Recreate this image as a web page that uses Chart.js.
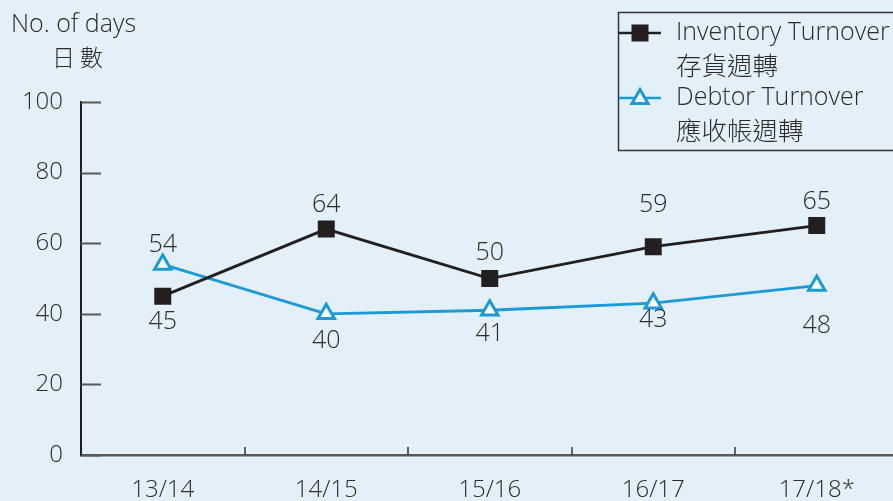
<!DOCTYPE html>
<html>
<head>
<meta charset="utf-8">
<script src="https://cdn.jsdelivr.net/npm/chart.js@4.4.0/dist/chart.umd.min.js"></script>
<style>
  html, body { margin: 0; padding: 0; background: #e3f0f9; overflow: hidden; }
  #wrap { position: relative; width: 893px; height: 501px; overflow: hidden; }
  canvas { position: absolute; left: 0; top: 0; }
</style>
</head>
<body>
<div id="wrap"><canvas id="chart" width="911" height="501"></canvas></div>
<script>
// data
const years = ['13/14', '14/15', '15/16', '16/17', '17/18*'];
const inventoryDays = [45, 64, 50, 59, 65];
const debtorDays = [54, 40, 41, 43, 48];
const yTicks = [0, 20, 40, 60, 80, 100];

// where each value label sits relative to its point (px, negative = above)
const inventoryLabelShift = [26, -24, -26, -42, -24];
const debtorLabelShift = [-20, 27, 24, 17, 40];

const FONT = '"Open Sans", "Noto Sans CJK TC", sans-serif';
const CJK = '"Noto Sans CJK TC", sans-serif';
const TEXT = '#2b2b2b';
const BLACK = '#231f20';
const BLUE = '#1b9ad6';

function drawMarker(ctx, style, x, y) {
    ctx.save();
    if (style === 'rect') {
        ctx.fillStyle = BLACK;
        ctx.fillRect(x - 8.5, y - 8.5, 17, 17);
    } else {
        ctx.beginPath();
        ctx.moveTo(x, y - 8.5);
        ctx.lineTo(x + 8, y + 5.5);
        ctx.lineTo(x - 8, y + 5.5);
        ctx.closePath();
        ctx.fillStyle = '#fff';
        ctx.fill();
        ctx.lineWidth = 3;
        ctx.strokeStyle = BLUE;
        ctx.stroke();
    }
    ctx.restore();
}

const decorations = {
    id: 'decorations',
    afterDraw(chart) {
        const ctx = chart.ctx;
        const x = chart.scales.x;
        const y = chart.scales.y;
        const area = chart.chartArea;

        ctx.save();
        // inward y ticks
        ctx.strokeStyle = '#58595b';
        ctx.lineWidth = 2;
        yTicks.forEach(v => {
            const py = Math.round(y.getPixelForValue(v)) + 0.5;
            ctx.beginPath();
            ctx.moveTo(area.left, py);
            ctx.lineTo(area.left + 20, py);
            ctx.stroke();
        });
        // category boundary ticks on x axis
        ctx.lineWidth = 1.5;
        ctx.strokeStyle = '#333';
        for (let i = 0; i < years.length - 1; i++) {
            const px = Math.round((x.getPixelForValue(i) + x.getPixelForValue(i + 1)) / 2);
            ctx.beginPath();
            ctx.moveTo(px, area.bottom);
            ctx.lineTo(px, area.bottom - 8);
            ctx.stroke();
        }

        // axis title
        ctx.fillStyle = TEXT;
        ctx.textBaseline = 'middle';
        ctx.textAlign = 'left';
        ctx.font = '300 25px ' + FONT;
        ctx.fillText('No. of days', 11, 25);
        ctx.font = '300 23px ' + CJK;
        ctx.fillText('日 數', 52, 57);

        // legend
        ctx.strokeStyle = '#333';
        ctx.lineWidth = 1.5;
        ctx.strokeRect(618.5, 12.5, 300, 138);
        const rows = [
            {color: BLACK, style: 'rect', y: 33, en: 'Inventory Turnover', zh: '存貨週轉'},
            {color: BLUE, style: 'triangle', y: 98, en: 'Debtor Turnover', zh: '應收帳週轉'}
        ];
        rows.forEach(r => {
            ctx.strokeStyle = r.color;
            ctx.lineWidth = 2.5;
            ctx.beginPath();
            ctx.moveTo(619, r.y);
            ctx.lineTo(661, r.y);
            ctx.stroke();
            drawMarker(ctx, r.style, 640, r.y);
            ctx.fillStyle = TEXT;
            ctx.font = '300 25px ' + FONT;
            ctx.fillText(r.en, 676, r.y);
            ctx.font = '300 25.5px ' + CJK;
            ctx.fillText(r.zh, 676, r.y + 32);
        });
        ctx.restore();
    },
    afterDatasetsDraw(chart) {
        const ctx = chart.ctx;
        const shifts = [inventoryLabelShift, debtorLabelShift];
        ctx.save();
        ctx.fillStyle = TEXT;
        ctx.font = '300 25px ' + FONT;
        ctx.textAlign = 'center';
        ctx.textBaseline = 'middle';
        chart.data.datasets.forEach((ds, di) => {
            chart.getDatasetMeta(di).data.forEach((pt, i) => {
                ctx.fillText(String(ds.data[i]), pt.x, pt.y + shifts[di][i]);
            });
        });
        ctx.restore();
    }
};

new Chart(document.getElementById('chart'), {
    type: 'line',
    data: {
        labels: years,
        datasets: [{
            label: 'Inventory Turnover 存貨週轉',
            data: inventoryDays,
            borderColor: BLACK,
            backgroundColor: BLACK,
            borderWidth: 2.8,
            pointStyle: 'rect',
            pointRadius: 12,
            pointBorderWidth: 0,
            tension: 0
        }, {
            label: 'Debtor Turnover 應收帳週轉',
            data: debtorDays,
            borderColor: BLUE,
            backgroundColor: '#ffffff',
            borderWidth: 2.8,
            pointStyle: 'triangle',
            pointRadius: 9.5,
            pointBorderWidth: 3,
            pointBorderColor: BLUE,
            tension: 0
        }]
    },
    options: {
        responsive: false,
        animation: false,
        layout: {
            padding: {top: 102, right: 0, left: 0, bottom: 0}
        },
        plugins: {
            legend: {display: false},
            tooltip: {enabled: false}
        },
        scales: {
            x: {
                offset: true,
                grid: {display: false, drawTicks: false},
                border: {display: true, color: '#58595b', width: 2.5},
                ticks: {
                    color: TEXT,
                    padding: 21,
                    maxRotation: 0,
                    font: {family: FONT, size: 24, weight: '300'}
                },
                afterFit(scale) {
                    scale.height = 46;
                    scale.paddingLeft = 0;
                    scale.paddingRight = 0;
                }
            },
            y: {
                min: 0,
                max: 100,
                afterBuildTicks(scale) { scale.ticks = yTicks.map(v => ({value: v})); },
                grid: {display: false, drawTicks: false},
                border: {display: true, color: '#231f20', width: 2},
                ticks: {
                    color: TEXT,
                    padding: 18,
                    font: {family: FONT, size: 24, weight: '300'}
                },
                afterFit(scale) { scale.width = 81; }
            }
        }
    },
    plugins: [decorations]
});
</script>
</body>
</html>
